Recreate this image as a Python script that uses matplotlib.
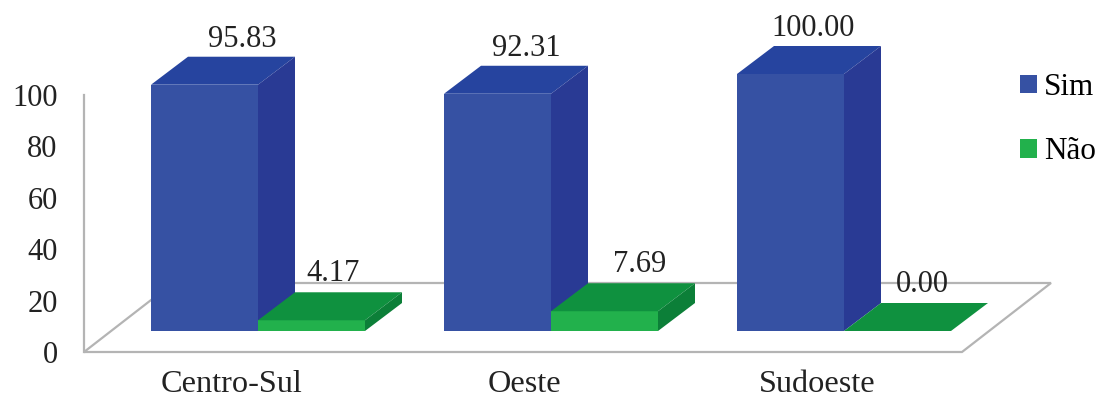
import matplotlib
matplotlib.use("Agg")
import matplotlib.pyplot as plt
from matplotlib.patches import Polygon

plt.rcParams['font.family'] = ['Liberation Serif', 'DejaVu Serif']

# Dados do grafico
regioes = ["Centro-Sul", "Oeste", "Sudoeste"]
sim = [95.83, 92.31, 100.00]
nao = [4.17, 7.69, 0.00]
y_ticks = [0, 20, 40, 60, 80, 100]

# Cores: frente, topo e lateral de cada barra
azul = ("#3651A3", "#26449F", "#293A94")
verde = ("#22B14C", "#0F913F", "#0C7F38")
cinza = "#B4B4B4"

# Escala: 293 px por regiao, 2.57 px por unidade
px_x = 293.0
px_y = 2.57
largura = 107 / px_x
dx_barra = 37 / px_x
dy_barra = 28 / px_y
base = 21 / px_y  # altura da base das barras acima do canto do piso
desloc_rotulo_x = [[38, 22], [29, 35], [23, 25]]  # px, deslocamento de cada rotulo

fig = plt.figure(figsize=(10.97, 4.01), dpi=100)
ax = fig.add_axes([84 / 1097, 49 / 401, 1013 / 1097, 257 / 401])
xmin = (84 - 258) / px_x
xmax = (1097 - 258) / px_x
ax.set_xlim(xmin, xmax)
ax.set_ylim(0, 100)


# Desenha uma barra 3D: frente com ax.bar, topo e lateral com poligonos
def barra_3d(x, valor, cores, rotulo, ordem):
    barra = ax.bar(x, valor, largura, bottom=base, align='edge', color=cores[0],
                   label=rotulo, zorder=ordem, clip_on=False)
    topo = base + valor
    dir = x + largura
    ax.add_patch(Polygon([(x, topo), (dir, topo), (dir + dx_barra, topo + dy_barra),
                          (x + dx_barra, topo + dy_barra)], facecolor=cores[1],
                         edgecolor='none', zorder=ordem, clip_on=False))
    ax.add_patch(Polygon([(dir, base), (dir, topo), (dir + dx_barra, topo + dy_barra),
                          (dir + dx_barra, base + dy_barra)], facecolor=cores[2],
                         edgecolor='none', zorder=ordem, clip_on=False))
    return barra


# Piso do grafico
dx_piso = 89 / px_x
dy_piso = 69 / px_y
x_fim = (962 - 258) / px_x
ax.add_patch(Polygon([(xmin, 0), (x_fim, 0), (x_fim + dx_piso, dy_piso), (xmin + dx_piso, dy_piso)],
                     closed=True, facecolor='white', edgecolor=cinza, linewidth=1.6,
                     zorder=1, clip_on=False))

for i in range(len(regioes)):
    barra_3d(i - largura, sim[i], azul, "Sim" if i == 0 else None, 3)
    barra_3d(i, nao[i], verde, "Não" if i == 0 else None, 4)

    # Rotulos de valor acima de cada barra
    ax.text(i - largura / 2 + desloc_rotulo_x[i][0] / px_x, base + sim[i] + dy_barra + 3.7,
            f"{sim[i]:.2f}", ha='center', va='baseline', fontsize=22, color='#222222', zorder=6)
    ax.text(i + largura / 2 + desloc_rotulo_x[i][1] / px_x, base + nao[i] + dy_barra + 4.2,
            f"{nao[i]:.2f}", ha='center', va='baseline', fontsize=22, color='#222222', zorder=6)

# Eixos
for lado in ['top', 'right', 'bottom']:
    ax.spines[lado].set_visible(False)
ax.spines['left'].set_color(cinza)
ax.spines['left'].set_linewidth(1.6)
ax.set_yticks(y_ticks)
ax.tick_params(axis='y', length=0, pad=19, labelsize=22, labelcolor='#222222')
ax.set_xticks([i - 27 / px_x for i in range(len(regioes))])
ax.set_xticklabels(regioes)
ax.tick_params(axis='x', length=0, pad=13, labelsize=23.2, labelcolor='#222222')
ax.patch.set_alpha(0)

# Legenda
ax.legend(loc='upper left', bbox_to_anchor=(1020 / 1097, 328 / 401), bbox_transform=fig.transFigure,
          frameon=False, fontsize=22.4, handlelength=0.56, handleheight=0.56, handletextpad=0.2,
          labelspacing=1.13, borderpad=0, borderaxespad=0)

fig.savefig("out.png", dpi=100)
